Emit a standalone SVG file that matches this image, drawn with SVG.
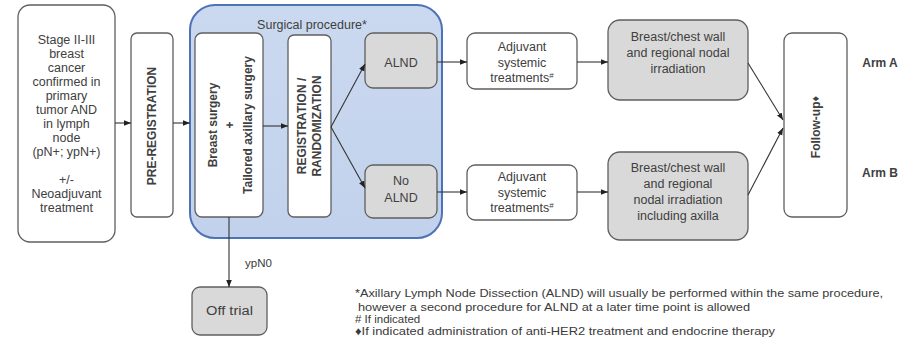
<svg xmlns="http://www.w3.org/2000/svg" width="907" height="357" viewBox="0 0 907 357">
<style>
.box{fill:#fff;stroke:#5f5f5f;stroke-width:1.3}
.gbox{fill:#d9d9d9;stroke:#5f5f5f;stroke-width:1.3}
.t{font-family:"Liberation Sans",Arial,sans-serif;font-size:12.5px;fill:#404040;text-anchor:middle}
.b{font-family:"Liberation Sans",Arial,sans-serif;font-size:12px;font-weight:bold;fill:#404040;text-anchor:middle}
.fn{font-family:"Liberation Sans",Arial,sans-serif;font-size:11.5px;fill:#3a3a3a}
.c{stroke:#333;stroke-width:1.1;fill:none;marker-end:url(#ah)}
</style>
<defs>
<marker id="ah" viewBox="0 0 10 10" refX="10" refY="5" markerWidth="7" markerHeight="7" markerUnits="userSpaceOnUse" orient="auto">
<path d="M0,1 L10,5 L0,9 z" fill="#222"/>
</marker>
<linearGradient id="sg" x1="0" y1="0" x2="0" y2="1">
<stop offset="0" stop-color="#cbd9f0"/>
<stop offset="1" stop-color="#c2d2ec"/>
</linearGradient>
</defs>
<rect width="907" height="357" fill="#fff"/>

<g id="surgical">
<rect x="190" y="5" width="252" height="233" rx="25" fill="url(#sg)" stroke="#4e72b6" stroke-width="2"/>
<text class="t" x="312" y="29">Surgical procedure*</text>
</g>

<g id="stage">
<rect class="box" x="18" y="5" width="97" height="237" rx="12"/>
<text class="t" x="66.5" y="44">Stage II-III</text>
<text class="t" x="66.5" y="58">breast</text>
<text class="t" x="66.5" y="72">cancer</text>
<text class="t" x="66.5" y="86">confirmed in</text>
<text class="t" x="66.5" y="100">primary</text>
<text class="t" x="66.5" y="114">tumor AND</text>
<text class="t" x="66.5" y="128">in lymph</text>
<text class="t" x="66.5" y="142">node</text>
<text class="t" x="66.5" y="156">(pN+; ypN+)</text>
<text class="t" x="66.5" y="184">+/-</text>
<text class="t" x="66.5" y="198">Neoadjuvant</text>
<text class="t" x="66.5" y="212">treatment</text>
</g>

<g id="preregistration">
<rect class="box" x="131" y="33" width="42" height="184" rx="6"/>
<text class="b" transform="translate(156,126) rotate(-90)" font-size="12.5">PRE-REGISTRATION</text>
</g>

<g id="breastsurgery">
<rect class="box" x="195" y="33" width="68" height="184" rx="7"/>
<text class="b" transform="translate(217,125) rotate(-90)">Breast surgery</text>
<text class="b" transform="translate(234,125) rotate(-90)">+</text>
<text class="b" transform="translate(252,125) rotate(-90)">Tailored axillary surgery</text>
</g>

<g id="registration">
<rect class="box" x="288" y="35" width="43" height="182" rx="6"/>
<text class="b" transform="translate(306,126) rotate(-90)">REGISTRATION /</text>
<text class="b" transform="translate(321,126) rotate(-90)">RANDOMIZATION</text>
</g>

<g id="alnd">
<rect class="gbox" x="365" y="33" width="72" height="55" rx="8"/>
<text class="t" x="401" y="67" font-size="13">ALND</text>
</g>

<g id="noalnd">
<rect class="gbox" x="365" y="165" width="72" height="53" rx="8"/>
<text class="t" x="401" y="185" font-size="13">No</text>
<text class="t" x="401" y="202" font-size="13">ALND</text>
</g>

<g id="adjuvantA">
<rect class="box" x="467" y="33" width="110" height="56" rx="8"/>
<text class="t" x="522" y="51" font-size="13">Adjuvant</text>
<text class="t" x="522" y="67" font-size="13">systemic</text>
<text class="t" x="522" y="82" font-size="13">treatments<tspan font-size="8" dy="-4">#</tspan></text>
</g>

<g id="adjuvantB">
<rect class="box" x="467" y="165" width="110" height="55" rx="8"/>
<text class="t" x="522" y="181" font-size="13">Adjuvant</text>
<text class="t" x="522" y="197" font-size="13">systemic</text>
<text class="t" x="522" y="212" font-size="13">treatments<tspan font-size="8" dy="-4">#</tspan></text>
</g>

<g id="irradiationA">
<rect class="gbox" x="608" y="20" width="140" height="80" rx="12"/>
<text class="t" x="678" y="41" font-size="13.5">Breast/chest wall</text>
<text class="t" x="678" y="57" font-size="13.5">and regional nodal</text>
<text class="t" x="678" y="73" font-size="13.5">irradiation</text>
</g>

<g id="irradiationB">
<rect class="gbox" x="608" y="152" width="140" height="88" rx="12"/>
<text class="t" x="678" y="172" font-size="13.5">Breast/chest wall</text>
<text class="t" x="678" y="188" font-size="13.5">and regional</text>
<text class="t" x="678" y="204" font-size="13.5">nodal irradiation</text>
<text class="t" x="678" y="220" font-size="13.5">including  axilla</text>
</g>

<g id="followup">
<rect class="box" x="784" y="33" width="63" height="184" rx="8"/>
<text class="b" transform="translate(820,127) rotate(-90)">Follow-up<tspan font-size="11" dy="-1">♦</tspan></text>
</g>

<g id="armA"><text class="b" x="880" y="67" font-size="11">Arm A</text></g>
<g id="armB"><text class="b" x="880" y="177" font-size="11">Arm B</text></g>

<g id="offtrial">
<rect class="gbox" x="192" y="287" width="75" height="48" rx="8"/>
<text class="t" x="229.5" y="315" font-size="12" textLength="47" lengthAdjust="spacingAndGlyphs">Off trial</text>
</g>

<g id="connectors">
<line class="c" x1="115" y1="123" x2="131" y2="123"/>
<line class="c" x1="173" y1="123" x2="190" y2="123"/>
<line class="c" x1="263" y1="126" x2="288" y2="126"/>
<line class="c" x1="331" y1="127" x2="365" y2="64"/>
<line class="c" x1="331" y1="127" x2="365" y2="188"/>
<line class="c" x1="437" y1="62" x2="467" y2="62"/>
<line class="c" x1="437" y1="192" x2="467" y2="192"/>
<line class="c" x1="577" y1="62" x2="608" y2="62"/>
<line class="c" x1="577" y1="192" x2="608" y2="192"/>
<line class="c" x1="748" y1="63" x2="783" y2="120"/>
<line class="c" x1="748" y1="195" x2="783" y2="128"/>
<line class="c" x1="229" y1="217" x2="229" y2="287"/>
<text class="fn" x="245" y="267">ypN0</text>
</g>

<g id="footnotes">
<text class="fn" x="355" y="297" textLength="528" lengthAdjust="spacingAndGlyphs">*Axillary Lymph Node Dissection (ALND) will usually be performed within the same procedure,</text>
<text class="fn" x="358" y="311" textLength="392" lengthAdjust="spacingAndGlyphs">however a second procedure for ALND at a later time point is allowed</text>
<text class="fn" x="355" y="323"># If indicated</text>
<text class="fn" x="355" y="335" textLength="420" lengthAdjust="spacingAndGlyphs">♦If indicated administration of anti-HER2 treatment and endocrine therapy</text>
</g>
</svg>
